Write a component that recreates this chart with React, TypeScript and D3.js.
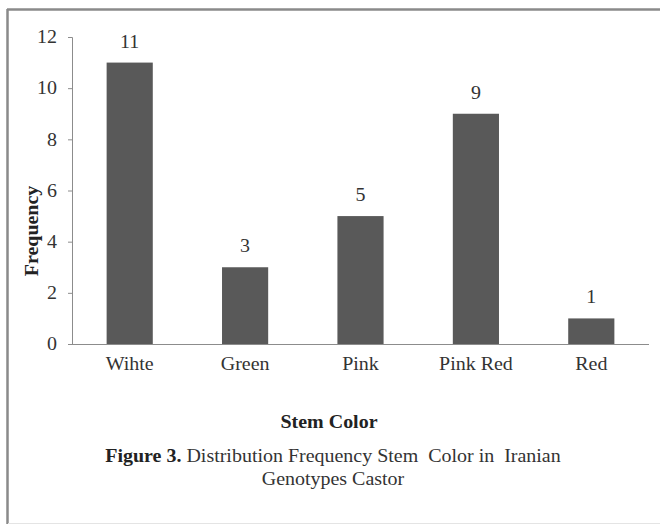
import { useRef, useEffect } from 'react';
import * as d3 from 'd3';

const categories = ['Wihte', 'Green', 'Pink', 'Pink Red', 'Red'];
const frequencies = [11, 3, 5, 9, 1];
const yTicks = [0, 2, 4, 6, 8, 10, 12];

const width = 660;
const height = 527;
const margin = { top: 37, right: 11, bottom: 183, left: 72 };

export default function App(): JSX.Element {
  const svgRef = useRef<SVGSVGElement | null>(null);

  useEffect(() => {
    if (!svgRef.current) return;
    const svg = d3.select(svgRef.current);
    svg.selectAll('*').remove();

    const font = '"Liberation Serif", "Times New Roman", serif';
    const fs = 18;
    const sx = 1.11; // the scanned figure is slightly stretched horizontally

    const x = d3.scaleBand<string>()
      .domain(categories)
      .range([margin.left, width - margin.right])
      .paddingInner(0.6)
      .paddingOuter(0.3);

    const y = d3.scaleLinear()
      .domain([0, 12])
      .range([height - margin.bottom, margin.top]);

    // frame
    svg.append('rect')
      .attr('x', 0).attr('y', 0).attr('width', width).attr('height', height)
      .attr('fill', '#fff');
    svg.append('line')
      .attr('x1', 7.5).attr('x2', 7.5).attr('y1', 9).attr('y2', 524)
      .attr('stroke', '#8a8a8a').attr('stroke-width', 2.5);
    svg.append('line')
      .attr('x1', 7).attr('x2', width).attr('y1', 9.5).attr('y2', 9.5)
      .attr('stroke', '#8a8a8a').attr('stroke-width', 2.5);
    svg.append('line')
      .attr('x1', 8).attr('x2', width).attr('y1', 523.5).attr('y2', 523.5)
      .attr('stroke', '#e4e4e4').attr('stroke-width', 1);

    // y axis
    const yAxis = svg.append('g')
      .attr('transform', `translate(${margin.left},0)`)
      .call(d3.axisLeft(y).tickValues(yTicks).tickSize(4).tickPadding(11));
    yAxis.select('.domain').attr('stroke', '#8c8c8c');
    yAxis.selectAll('.tick line').attr('stroke', '#8c8c8c');
    yAxis.selectAll('.tick text')
      .attr('x', -15 / sx)
      .attr('transform', `scale(${sx},1)`)
      .attr('font-family', font).attr('font-size', fs).attr('fill', '#333');

    // x axis
    const xAxis = svg.append('g')
      .attr('transform', `translate(0,${y(0)})`)
      .call(d3.axisBottom(x).tickSize(0).tickPadding(13).tickSizeOuter(0));
    xAxis.select('.domain').attr('stroke', '#8c8c8c').attr('d', `M${margin.left - 4},0.5H${width - margin.right}`);
    xAxis.selectAll('.tick text')
      .attr('transform', `scale(${sx},1)`)
      .attr('font-family', font).attr('font-size', fs).attr('fill', '#333');

    // bars
    svg.selectAll('rect.bar')
      .data(frequencies)
      .join('rect')
      .attr('class', 'bar')
      .attr('x', (_, i) => x(categories[i]) ?? 0)
      .attr('y', d => y(d))
      .attr('width', x.bandwidth())
      .attr('height', d => y(0) - y(d))
      .attr('fill', '#595959');

    // value labels
    svg.selectAll('text.val')
      .data(frequencies)
      .join('text')
      .attr('class', 'val')
      .attr('transform', (d, i) =>
        `translate(${(x(categories[i]) ?? 0) + x.bandwidth() / 2},${y(d) - 15}) scale(${sx},1)`)
      .attr('text-anchor', 'middle')
      .attr('font-family', font).attr('font-size', fs).attr('fill', '#333')
      .text(d => d);

    // y title
    svg.append('text')
      .attr('transform', `translate(38,231) rotate(-90) scale(${sx},1)`)
      .attr('text-anchor', 'middle')
      .attr('font-family', font).attr('font-size', fs).attr('font-weight', 'bold')
      .attr('fill', '#222')
      .text('Frequency');

    // x title
    svg.append('text')
      .attr('transform', `translate(329,428) scale(${sx},1)`)
      .attr('text-anchor', 'middle')
      .attr('font-family', font).attr('font-size', fs).attr('font-weight', 'bold')
      .attr('fill', '#222')
      .text('Stem Color');

    // caption
    const cap = svg.append('text')
      .attr('transform', `translate(333,462) scale(${sx},1)`)
      .attr('text-anchor', 'middle')
      .attr('font-family', font).attr('font-size', fs).attr('fill', '#333')
      .attr('xml:space', 'preserve');
    cap.append('tspan').attr('font-weight', 'bold').attr('fill', '#222').text('Figure 3.');
    cap.append('tspan').text(' Distribution Frequency Stem  Color in  Iranian');
    svg.append('text')
      .attr('transform', `translate(333,485) scale(${sx},1)`)
      .attr('text-anchor', 'middle')
      .attr('font-family', font).attr('font-size', fs).attr('fill', '#333')
      .text('Genotypes Castor');
  }, []);

  return (
    <svg
      ref={svgRef}
      width={width}
      height={height}
      style={{ position: 'absolute', left: 0, top: 0 }}
    />
  );
}
